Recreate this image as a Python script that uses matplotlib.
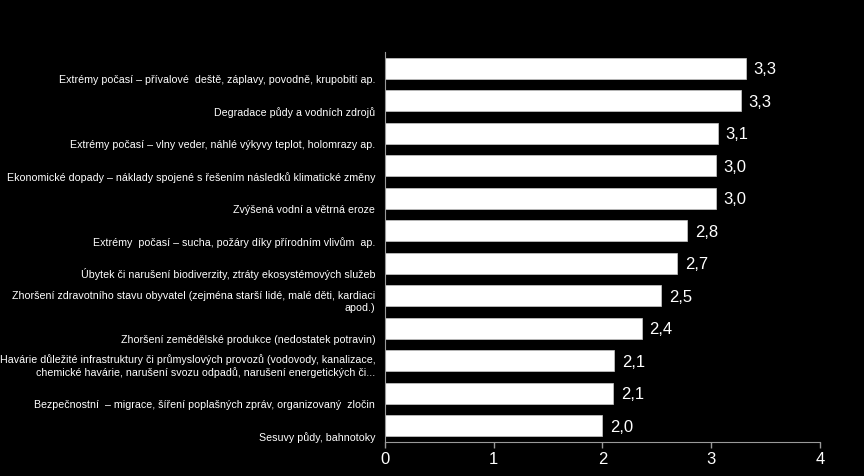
import numpy as np
import matplotlib
matplotlib.use("Agg")
import matplotlib.pyplot as plt

plt.rcParams['font.family'] = ['Liberation Sans', 'DejaVu Sans']

labels = [
    "Extrémy počasí – přívalové  deště, záplavy, povodně, krupobití ap.",
    "Degradace půdy a vodních zdrojů",
    "Extrémy počasí – vlny veder, náhlé výkyvy teplot, holomrazy ap.",
    "Ekonomické dopady – náklady spojené s řešením následků klimatické změny",
    "Zvýšená vodní a větrná eroze",
    "Extrémy  počasí – sucha, požáry díky přírodním vlivům  ap.",
    "Úbytek či narušení biodiverzity, ztráty ekosystémových služeb",
    "Zhoršení zdravotního stavu obyvatel (zejména starší lidé, malé děti, kardiaci\napod.)",
    "Zhoršení zemědělské produkce (nedostatek potravin)",
    "Havárie důležité infrastruktury či průmyslových provozů (vodovody, kanalizace,\nchemické havárie, narušení svozu odpadů, narušení energetických či...",
    "Bezpečnostní  – migrace, šíření poplašných zpráv, organizovaný  zločin",
    "Sesuvy půdy, bahnotoky",
]
values = [3.32, 3.27, 3.06, 3.04, 3.04, 2.78, 2.69, 2.54, 2.36, 2.11, 2.10, 2.00]
xticks = [0, 1, 2, 3, 4]

fig = plt.figure(figsize=(8.64, 4.76), dpi=100, facecolor="black")
ax = fig.add_axes([0.4456, 0.0714, 0.5034, 0.8196])
ax.set_facecolor("black")

y = np.arange(len(values))
ax.barh(y, values, height=0.65, color="white", edgecolor="#cccccc", linewidth=0.5)

for i, v in enumerate(values):
    ax.text(v + 0.07, i + 0.05, f"{v:.1f}".replace(".", ","), color="white",
            fontsize=12, va="center", ha="left")
    ax.text(-0.09, i + 0.52, labels[i], color="white", fontsize=7.65,
            ha="right", va="bottom", multialignment="right")

ax.set_ylim(len(values) - 0.5, -0.5)
ax.set_xlim(0, 4)
ax.set_xticks(xticks)
ax.set_xticklabels([str(t) for t in xticks], color="white", fontsize=12)
ax.set_yticks([])
ax.tick_params(axis="x", colors="#999999", length=4, width=1, labelcolor="white")
for s in ["top", "right"]:
    ax.spines[s].set_visible(False)
for s in ["left", "bottom"]:
    ax.spines[s].set_color("#999999")

fig.savefig("out.png", dpi=100, facecolor="black")
